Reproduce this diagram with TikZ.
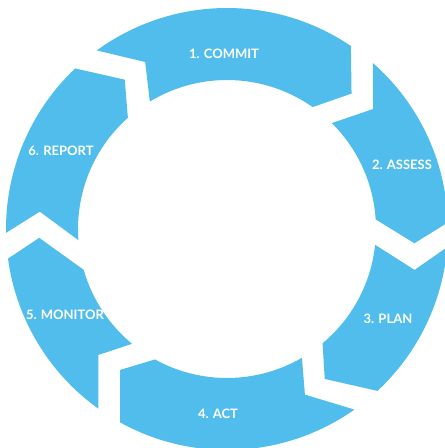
\documentclass[tikz,border=0pt]{standalone}
\usepackage{fontspec}
\usepackage{tikz}
\newfontfamily\labelfont{Lato}
\definecolor{ringblue}{RGB}{80,189,236}
\tikzstyle{segment}=[fill=ringblue]
\tikzstyle{steplabel}=[text=white,inner sep=0pt,font=\labelfont\bfseries\fontsize{13}{15}\selectfont]

\begin{document}
\begin{tikzpicture}[x=1pt,y=1pt]
\useasboundingbox (-227,-219) rectangle (218,229);
\clip (-227,-219) rectangle (218,229);
% tail outer / notch angle / notch radius / tail inner / head inner / point angle / point radius / head outer
\foreach \tailo/\tailn/\notchr/\taili/\headi/\headp/\pointr/\heado in
  {126.1/116.1/186/121.2/54.9/47.4/184/55.9,
   48.7/39.4/189/45.3/3.7/-4.35/188/1.7,
   -4.7/-12.3/192/-6.1/-50.1/-56.9/179/-47.1,
   -54.8/-64.8/183/-59.8/-118.9/-127.2/177/-118.9,
   -125.6/-135.6/180/-129.6/-164.1/-177.3/188/-172.3,
   181/174.7/188/184.3/131.7/124.4/181/133.4}
  \fill[segment] (\tailo:221) -- (\tailn:\notchr) -- (\taili:149)
    arc[start angle=\taili, end angle=\headi, radius=149pt]
    -- (\headp:\pointr) -- (\heado:221)
    arc[start angle=\heado, end angle=\tailo, radius=221pt] -- cycle;
\node[steplabel] (commit) at (-3,175) {1. COMMIT};
\node[steplabel] (assess) at (175,64) {2. ASSESS};
\node[steplabel] (plan) at (161,-90) {3. PLAN};
\node[steplabel] (act) at (-9,-185) {4. ACT};
\node[steplabel] (monitor) at (-162,-86) {5. MONITOR};
\node[steplabel] (report) at (-166,78) {6. REPORT};
\end{tikzpicture}
\end{document}
